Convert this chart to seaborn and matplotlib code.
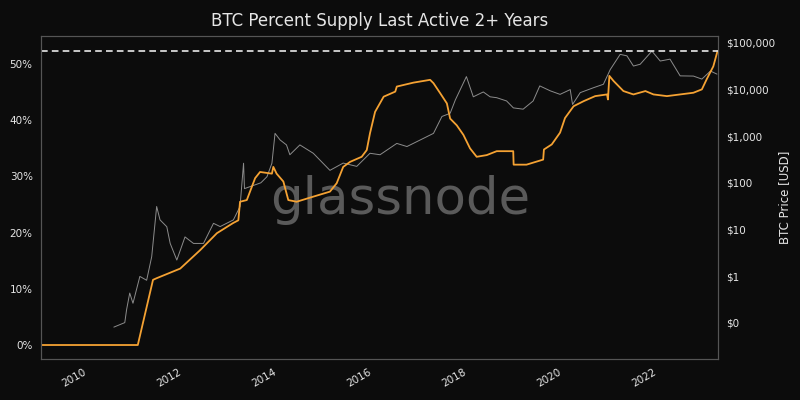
import pandas as pd
import matplotlib
matplotlib.use("Agg")
import matplotlib.pyplot as plt
import matplotlib.dates as mdates
from matplotlib.ticker import FuncFormatter, FixedLocator
import seaborn as sns

# supply last active 2+ years (%)
supply_dates = [
    "2009-01-03", "2011-01-18", "2011-05-15", "2011-06-13", "2011-12-10",
    "2012-05-12", "2012-09-17", "2013-01-19", "2013-03-01", "2013-03-14",
    "2013-05-05", "2013-07-08", "2013-08-15", "2013-11-14", "2013-11-25",
    "2013-12-20", "2014-02-10", "2014-03-20", "2014-05-23", "2014-09-27",
    "2015-02-03", "2015-03-27", "2015-05-16", "2015-07-08", "2015-10-05",
    "2015-11-13", "2015-12-08", "2016-01-16", "2016-03-22", "2016-06-19",
    "2016-07-01", "2016-11-06", "2017-03-14", "2017-04-09", "2017-05-31",
    "2017-07-21", "2017-08-15", "2017-10-05", "2017-11-25", "2018-01-15",
    "2018-03-07", "2018-05-23", "2018-08-08", "2018-12-13", "2018-12-16",
    "2019-03-25", "2019-07-31", "2019-08-06", "2019-10-05", "2019-12-08",
    "2020-01-15", "2020-03-21", "2020-06-06", "2020-09-03", "2020-12-03",
    "2020-12-10", "2020-12-21", "2021-01-22", "2021-04-08", "2021-06-24",
    "2021-09-24", "2021-11-25", "2022-03-08", "2022-06-18", "2022-09-28",
    "2022-12-02", "2023-01-08", "2023-02-28", "2023-04-01",
]
supply_pct = [
    0.0, 0.0, 11.6, 11.9, 13.6,
    16.9, 19.9, 21.7, 22.2, 25.5,
    25.8, 29.7, 30.8, 30.5, 31.7,
    30.5, 29.1, 25.8, 25.5, 26.4,
    27.3, 28.8, 31.7, 32.6, 33.5,
    34.7, 37.7, 41.5, 44.2, 45.1,
    46.0, 46.7, 47.2, 46.6, 44.8,
    43.0, 40.3, 39.1, 37.4, 35.0,
    33.5, 33.8, 34.5, 34.5, 32.1,
    32.1, 33.0, 34.8, 35.7, 37.8,
    40.4, 42.5, 43.4, 44.3, 44.6,
    43.7, 47.9, 47.0, 45.2, 44.6,
    45.2, 44.6, 44.3, 44.6, 44.9,
    45.5, 47.3, 49.6, 52.3,
]

# BTC price (USD)
price_dates = [
    "2010-07-18", "2010-10-10", "2010-10-24", "2010-11-17", "2010-12-12",
    "2011-02-03", "2011-03-27", "2011-05-05", "2011-06-12", "2011-07-08",
    "2011-08-29", "2011-09-24", "2011-11-14", "2012-01-16", "2012-03-21",
    "2012-06-06", "2012-08-22", "2012-10-12", "2013-01-22", "2013-03-14",
    "2013-04-10", "2013-04-17", "2013-08-21", "2013-10-07", "2013-11-14",
    "2013-12-08", "2014-01-16", "2014-03-06", "2014-04-01", "2014-06-17",
    "2014-09-28", "2015-02-03", "2015-05-16", "2015-08-28", "2015-12-08",
    "2016-02-23", "2016-07-01", "2016-09-17", "2016-12-28", "2017-04-09",
    "2017-06-13", "2017-08-15", "2017-09-24", "2017-12-18", "2018-02-09",
    "2018-04-27", "2018-06-18", "2018-08-08", "2018-10-23", "2018-12-14",
    "2019-02-27", "2019-05-15", "2019-07-05", "2019-09-24", "2019-12-08",
    "2020-02-24", "2020-03-13", "2020-05-11", "2020-08-22", "2020-11-05",
    "2020-12-28", "2021-03-14", "2021-05-05", "2021-06-24", "2021-08-15",
    "2021-11-13", "2022-01-16", "2022-04-01", "2022-06-18", "2022-09-28",
    "2022-12-02", "2023-02-06", "2023-03-28",
]
price_usd = [
    0.08, 0.10, 0.19, 0.43, 0.26,
    0.98, 0.81, 2.6, 31, 16,
    11.4, 5.0, 2.2, 6.9, 5.0,
    5.0, 13.5, 11.5, 16, 31,
    263, 75, 100, 135, 263,
    1150, 830, 650, 400, 650,
    430, 185, 265, 225, 430,
    400, 700, 600, 830, 1150,
    2650, 3100, 6000, 19000, 7000,
    8900, 7000, 6700, 5700, 4050,
    3800, 5700, 12000, 9400, 7900,
    10000, 4800, 8600, 11000, 13000,
    27000, 57000, 53000, 32000, 35000,
    67000, 41000, 45000, 19700, 19500,
    16800, 25000, 21500,
]

ath_pct = 52.3
year_ticks = list(range(2010, 2024, 2))
price_ticks = [0.1, 1, 10, 100, 1000, 10000, 100000]

df_supply = pd.DataFrame({"date": pd.to_datetime(supply_dates), "pct": supply_pct})
df_price = pd.DataFrame({"date": pd.to_datetime(price_dates), "price": price_usd})

bg = "#0c0c0c"
fg = "#e6e6e6"
sns.set_style("dark")
plt.rcParams["font.family"] = ["DejaVu Sans"]

fig, ax = plt.subplots(figsize=(8, 4), dpi=100)
fig.patch.set_facecolor(bg)
fig.subplots_adjust(left=0.05125, right=0.8975, top=0.91, bottom=0.1025)

ax2 = ax.twinx()
ax2.set_facecolor(bg)
ax.set_zorder(ax2.get_zorder() + 1)
ax.patch.set_visible(False)

# price (gray, right log axis)
sns.lineplot(data=df_price, x="date", y="price", ax=ax2, color="#8c8c8c", linewidth=0.7)
ax2.set_yscale("log")
ax2.set_ylim(10 ** -1.781, 10 ** 5.150)
ax2.yaxis.set_major_locator(FixedLocator(price_ticks))
ax2.yaxis.set_minor_locator(FixedLocator([]))
ax2.yaxis.set_major_formatter(FuncFormatter(lambda v, p: f"${v:,.0f}"))
ax2.set_ylabel("BTC Price [USD]", color=fg, fontsize=8.5, labelpad=2)

# supply (orange, left axis)
sns.lineplot(data=df_supply, x="date", y="pct", ax=ax, color="#f5a233", linewidth=1.3)
ax.axhline(ath_pct, color="#e8e8e8", linestyle="--", linewidth=1.2, dashes=(4, 2.5))
ax.set_ylim(-2.49, 55.0)
ax.set_yticks([0, 10, 20, 30, 40, 50])
ax.yaxis.set_major_formatter(FuncFormatter(lambda v, p: f"{v:.0f}%"))
ax.set_ylabel("")
ax.set_xlabel("")
ax2.set_xlabel("")
ax.set_xlim(pd.Timestamp("2009-01-04"), pd.Timestamp("2023-04-05"))
ax.xaxis.set_major_locator(FixedLocator([mdates.date2num(pd.Timestamp(f"{y}-01-01")) for y in year_ticks]))
ax.xaxis.set_major_formatter(FuncFormatter(lambda v, p: str(mdates.num2date(v).year)))

for a in (ax, ax2):
    a.tick_params(colors=fg, labelsize=7.5, length=0, pad=6)
    a.grid(False)
    for s in a.spines.values():
        s.set_color("#555555")
        s.set_linewidth(0.8)
plt.setp(ax.get_xticklabels(), rotation=30, ha="right")

ax.set_title("BTC Percent Supply Last Active 2+ Years", color=fg, fontsize=12, pad=7)

fig.text(0.5, 0.5, "glassnode", color="#5a5a5a", fontsize=37, ha="center", va="center",
         fontweight="medium", zorder=0)

fig.savefig("out.png", facecolor=bg)
